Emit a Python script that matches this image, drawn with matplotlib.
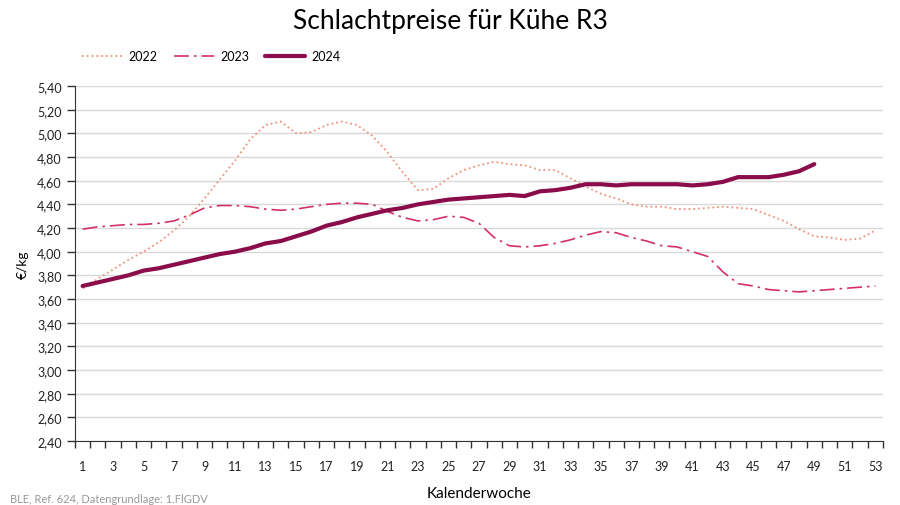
import numpy as np
import matplotlib
matplotlib.use("Agg")
import matplotlib.pyplot as plt
from matplotlib.ticker import FixedLocator, FuncFormatter

plt.rcParams['font.family'] = ['Lato', 'DejaVu Sans']

# Kalenderwochen
weeks = np.arange(1, 54)

# Schlachtpreise Kühe R3 in €/kg
p2022 = [3.69, 3.77, 3.85, 3.93, 4.00, 4.08, 4.18, 4.30, 4.45, 4.61,
         4.77, 4.95, 5.07, 5.10, 5.00, 5.01, 5.07, 5.10, 5.07, 4.98,
         4.84, 4.67, 4.52, 4.53, 4.62, 4.69, 4.73, 4.76, 4.74, 4.73,
         4.69, 4.69, 4.62, 4.55, 4.49, 4.45, 4.40, 4.38, 4.38, 4.36,
         4.36, 4.37, 4.38, 4.37, 4.36, 4.31, 4.26, 4.19, 4.13, 4.12,
         4.10, 4.11, 4.18]
p2023 = [4.19, 4.21, 4.22, 4.23, 4.23, 4.24, 4.26, 4.31, 4.37, 4.39,
         4.39, 4.38, 4.36, 4.35, 4.36, 4.38, 4.40, 4.41, 4.41, 4.40,
         4.34, 4.29, 4.26, 4.27, 4.30, 4.29, 4.24, 4.12, 4.05, 4.04,
         4.05, 4.07, 4.10, 4.14, 4.17, 4.16, 4.12, 4.09, 4.05, 4.04,
         4.00, 3.96, 3.83, 3.73, 3.71, 3.68, 3.67, 3.66, 3.67, 3.68,
         3.69, 3.70, 3.71]
p2024 = [3.71, 3.74, 3.77, 3.80, 3.84, 3.86, 3.89, 3.92, 3.95, 3.98,
         4.00, 4.03, 4.07, 4.09, 4.13, 4.17, 4.22, 4.25, 4.29, 4.32,
         4.35, 4.37, 4.40, 4.42, 4.44, 4.45, 4.46, 4.47, 4.48, 4.47,
         4.51, 4.52, 4.54, 4.57, 4.57, 4.56, 4.57, 4.57, 4.57, 4.57,
         4.56, 4.57, 4.59, 4.63, 4.63, 4.63, 4.65, 4.68, 4.74]

fig = plt.figure(figsize=(9, 5.06), dpi=100)
ax = fig.add_axes([0.0833, 0.1265, 0.8977, 0.7015])

ax.plot(weeks, p2022, linestyle=":", color="#F0917A", linewidth=1.3, label="2022")
ax.plot(weeks, p2023, linestyle=(0, (9, 3, 1.5, 3)), color="#D42F6C", linewidth=1.2, label="2023")
ax.plot(weeks[:len(p2024)], p2024, linestyle="-", color="#8A0C4A", linewidth=3, label="2024",
        solid_capstyle="round")

ax.set_xlim(0.5, 53.5)
ax.set_ylim(2.4, 5.4)
ax.set_yticks(np.arange(2.4, 5.41, 0.2))
ax.yaxis.set_major_formatter(FuncFormatter(lambda v, p: f"{v:.2f}".replace(".", ",")))
ax.set_xticks(np.arange(1, 54, 2))
ax.xaxis.set_minor_locator(FixedLocator(np.arange(0.5, 54, 1)))
ax.tick_params(axis="x", which="major", length=0, labelsize=9, pad=14, colors="#222222")
ax.tick_params(axis="x", which="minor", length=5, width=1, color="#333333")
ax.tick_params(axis="y", which="major", length=6, width=1, labelsize=9, color="#333333",
               labelcolor="#222222")

ax.grid(axis="y", color="#D9D9D9", linewidth=1)
ax.set_axisbelow(True)
for s in ["top", "right"]:
    ax.spines[s].set_visible(False)
ax.spines["left"].set_color("#333333")
ax.spines["bottom"].set_color("#333333")

ax.set_ylabel("€/kg", fontsize=10, labelpad=6)
ax.set_xlabel("Kalenderwoche", fontsize=11, labelpad=10)

fig.text(0.5, 0.958, "Schlachtpreise für Kühe R3", ha="center", va="center", fontsize=19)
ax.legend(loc="lower left", bbox_to_anchor=(-0.005, 1.035), ncol=3, frameon=False, fontsize=9,
          handlelength=3.2, columnspacing=1.3, handletextpad=0.5)
fig.text(0.011, 0.002, "BLE, Ref. 624, Datengrundlage: 1.FlGDV", ha="left", va="bottom",
         fontsize=8, color="#999999")

fig.savefig("out.png", dpi=100)
